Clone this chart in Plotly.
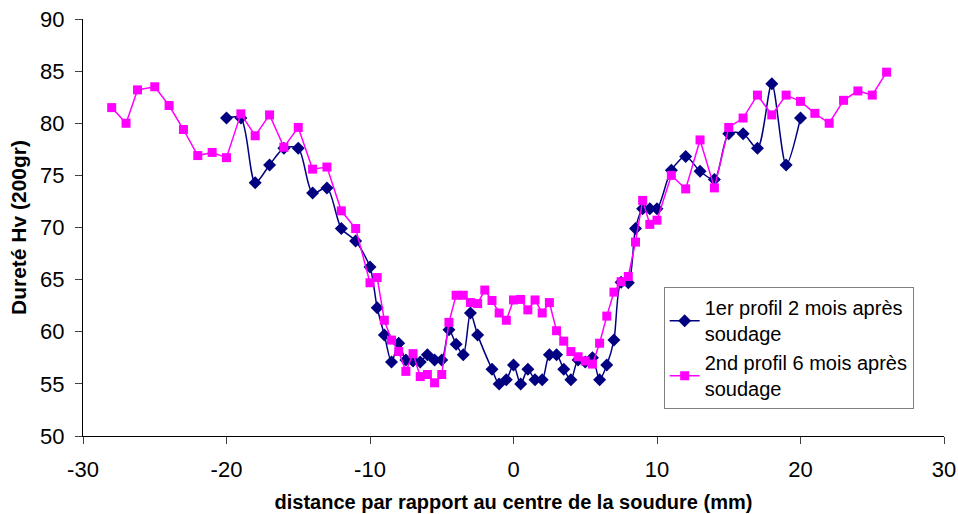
import plotly.graph_objects as go

x1 = [-20, -19, -18, -17, -16, -15, -14, -13, -12, -11, -10, -9.5, -9, -8.5, -8, -7.5, -7,
      -6.5, -6, -5.5, -5, -4.5, -4, -3.5, -3, -2.5, -1.5, -1, -0.5, 0, 0.5, 1, 1.5, 2,
      2.5, 3, 3.5, 4, 4.5, 5, 5.5, 6, 6.5, 7, 7.5, 8, 8.5, 9, 9.5, 10, 11, 12, 13, 14,
      15, 16, 17, 18, 19, 20]
y1 = [80.5, 80.5, 74.3, 76.0, 77.6, 77.6, 73.3, 73.8, 69.9, 68.7, 66.2, 62.3, 59.7, 57.1,
      58.9, 57.3, 57.2, 57.1, 57.8, 57.3, 57.3, 60.2, 58.8, 57.8, 61.8, 59.7, 56.4, 55.0,
      55.4, 56.8, 55.0, 56.4, 55.4, 55.4, 57.8, 57.8, 56.4, 55.4, 57.3, 57.1, 57.5, 55.4,
      56.8, 59.2, 64.75, 64.7, 69.9, 71.8, 71.8, 71.8, 75.5, 76.8, 75.4, 74.6, 79.0, 79.0,
      77.6, 83.8, 76.0, 80.5]

x2 = [-28, -27, -26.2, -25, -24, -23, -22, -21, -20, -19, -18, -17, -16, -15, -14, -13,
      -12, -11, -10, -9.5, -9, -8.5, -8, -7.5, -7, -6.5, -6, -5.5, -5, -4.5, -4, -3.5,
      -3, -2.5, -2, -1.5, -1, -0.5, 0, 0.5, 1, 1.5, 2, 2.5, 3, 3.5, 4, 4.5, 5, 5.5, 6,
      6.5, 7, 7.5, 8, 8.5, 9, 9.5, 10, 11, 12, 13, 14, 15, 16, 17, 18, 19, 20, 21, 22,
      23, 24, 25, 26]
y2 = [81.5, 80.0, 83.2, 83.5, 81.7, 79.4, 76.9, 77.2, 76.7, 80.9, 78.8, 80.8, 77.7, 79.6,
      75.6, 75.8, 71.6, 69.9, 64.7, 65.2, 61.1, 59.2, 58.1, 56.2, 57.9, 55.7, 55.9, 55.1,
      55.9, 60.9, 63.5, 63.5, 62.8, 62.7, 64.0, 63.0, 61.8, 61.1, 63.05, 63.1, 62.1, 63.05,
      61.8, 62.8, 60.1, 59.1, 58.1, 57.6, 57.2, 56.9, 58.9, 61.5, 63.8, 64.8, 65.3, 68.6,
      72.6, 70.3, 70.7, 75.0, 73.7, 78.4, 73.8, 79.6, 80.5, 82.7, 80.8, 82.7, 82.1, 80.95,
      80.0, 82.2, 83.1, 82.7, 84.9]

xticks = [-30, -20, -10, 0, 10, 20, 30]
xtick_labels = ["-30", "-20", "-10", "0", "10", "20", "30"]
yticks = [50, 55, 60, 65, 70, 75, 80, 85, 90]

FONT = "Liberation Sans, Arial, sans-serif"

fig = go.Figure()
fig.add_trace(go.Scatter(
    x=x1, y=y1, mode="lines+markers",
    name="1er profil 2 mois après<br>soudage",
    line=dict(color="#000080", width=1.5, shape="spline", smoothing=0.8),
    marker=dict(symbol="diamond", size=10, color="#000080"),
))
fig.add_trace(go.Scatter(
    x=x2, y=y2, mode="lines+markers",
    name="2nd profil 6 mois après<br>soudage",
    line=dict(color="#FF00FF", width=1.5),
    marker=dict(symbol="square", size=9, color="#FF00FF"),
))

fig.update_layout(
    width=958, height=514,
    margin=dict(l=83, r=14, t=19, b=78),
    plot_bgcolor="white", paper_bgcolor="white",
    font=dict(family=FONT, size=20, color="black"),
    showlegend=True,
    legend=dict(
        x=0.6744, y=0.357, xanchor="left", yanchor="top",
        bgcolor="white", bordercolor="#808080", borderwidth=1,
        font=dict(family=FONT, size=20, color="black"),
        tracegroupgap=6, itemwidth=30,
    ),
    xaxis=dict(
        range=[-30, 30], tickvals=xticks, ticktext=xtick_labels,
        ticks="outside", ticklen=7, tickcolor="#404040",
        showline=True, linecolor="black", linewidth=1, showgrid=False, zeroline=False,
        tickfont=dict(size=22), automargin=False, ticklabelstandoff=7,
        ticklabeloverflow="allow",
        title=dict(text="<b>distance par rapport au centre de la soudure (mm)</b>",
                   font=dict(size=20), standoff=13),
    ),
    yaxis=dict(
        range=[50, 90], tickvals=yticks, ticks="outside", ticklen=7, tickcolor="#404040",
        showline=True, linecolor="black", linewidth=1, showgrid=False, zeroline=False,
        tickfont=dict(size=22), automargin=False, ticklabelstandoff=6,
        ticklabeloverflow="allow",
        title=dict(text="<b>Dureté Hv (200gr)</b>", font=dict(size=21), standoff=7),
    ),
)

fig.write_html("out.html", config={"displayModeBar": False},
               post_script="document.body.style.margin='0';")
